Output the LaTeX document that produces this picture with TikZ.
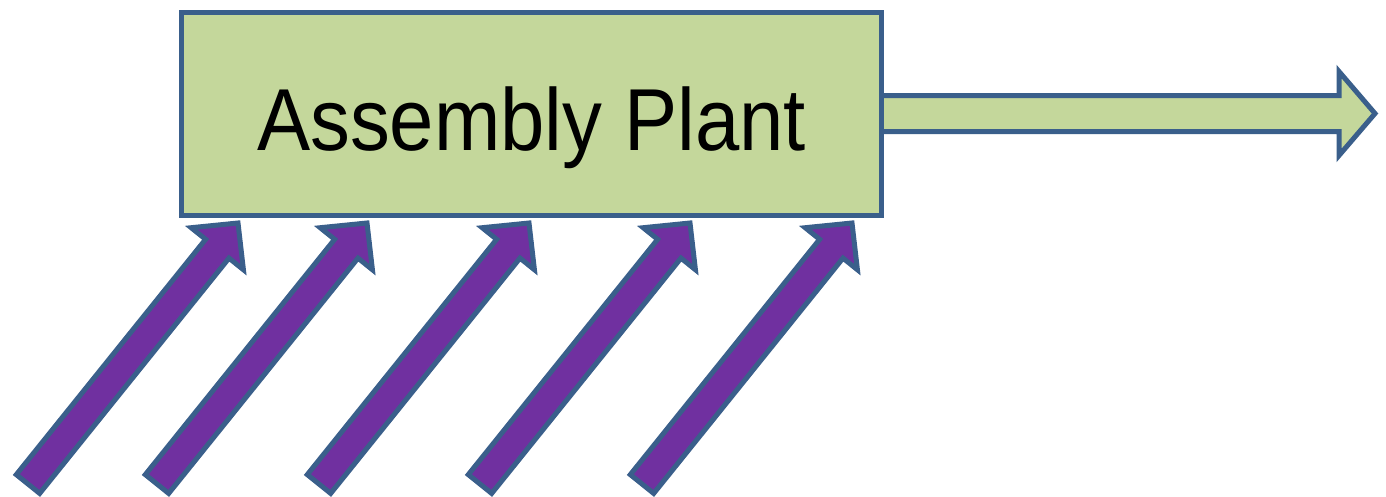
\documentclass[tikz,border=0pt]{standalone}
\usepackage{fontspec}
\setmainfont{Liberation Sans}
\usetikzlibrary{calc}
\definecolor{boxgreen}{HTML}{C4D79B}
\definecolor{edgeblue}{HTML}{3A5F8B}
\definecolor{arrowpurple}{HTML}{7030A0}
\tikzset{
  plantbox/.style={draw=edgeblue, line width=5pt, fill=boxgreen, minimum width=700pt, minimum height=203pt, inner sep=0pt},
  outarrow/.style={draw=edgeblue, line width=5pt, fill=boxgreen, line join=miter},
  inarrow/.style={draw=edgeblue, line width=5pt, fill=arrowpurple, line join=miter},
  titletext/.style={anchor=base, inner sep=0pt, font=\fontsize{88}{88}\selectfont}
}
\newcommand\purplearrow[2]{%
  \filldraw[inarrow]
    ($(#1)!15pt!90:(#2)$) --
    ($(#2)!33pt!(#1)!15pt!-90:(#1)$) --
    ($(#2)!33pt!(#1)!33.5pt!-90:(#1)$) --
    (#2) --
    ($(#2)!33pt!(#1)!33.5pt!90:(#1)$) --
    ($(#2)!33pt!(#1)!15pt!90:(#1)$) --
    ($(#1)!15pt!-90:(#2)$) -- cycle;}
\begin{document}
\begin{tikzpicture}[x=1pt, y=-1pt]
\useasboundingbox (0,0) rectangle (1386,496);
% output arrow (drawn first, box on top)
\coordinate (outstart) at (860,113.5);
\coordinate (outtip) at (1375,113.5);
\filldraw[outarrow] (outstart |- 0,95.5) -- (1339,95.5) -- (1339,71.5) -- (outtip) -- (1339,155.5) -- (1339,131.5) -- (outstart |- 0,131.5) -- cycle;
\node[plantbox] (box) at (531.5,114) {};
\node[titletext] (title) at ($(box.center)+(0,36)$) {\scalebox{0.905}[1]{Assembly Plant}};
% input arrows
\foreach \i/\x in {1/238, 2/367, 3/529, 4/690, 5/852} {
  \coordinate (tip\i) at (\x,223);
  \coordinate (tail\i) at ($(tip\i)+(-210,261)$);
  \purplearrow{tail\i}{tip\i}
}
\end{tikzpicture}
\end{document}
